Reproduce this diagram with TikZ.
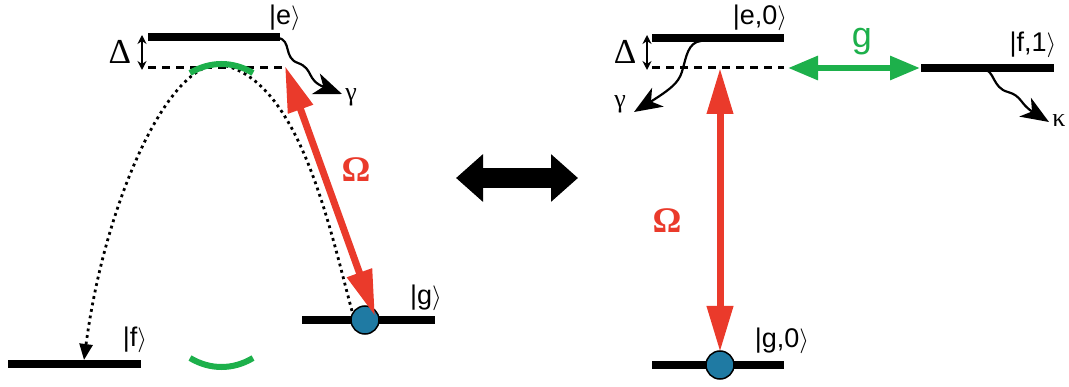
\documentclass[tikz,border=0pt]{standalone}
\usepackage{fontspec}
\setmainfont{Liberation Sans}
\newfontfamily\serifgr{Liberation Serif}
\usetikzlibrary{arrows.meta}
\definecolor{myred}{RGB}{234,58,43}
\definecolor{mygreen}{RGB}{29,176,75}
\definecolor{myblue}{RGB}{31,122,163}
\begin{document}
\begin{tikzpicture}[x=1pt,y=-1pt,
  level/.style={line width=8pt},
  virt/.style={line width=3pt, dash pattern=on 8pt off 6pt},
  ket/.style={font=\fontsize{27}{27}\selectfont, inner sep=0pt},
  greek/.style={font=\serifgr\fontsize{26}{26}\selectfont, inner sep=0pt},
  deltalbl/.style={font=\serifgr\fontsize{35}{35}\selectfont, inner sep=0pt},
  omegalbl/.style={font=\serifgr\bfseries\fontsize{36}{36}\selectfont, text=myred, inner sep=0pt},
  glbl/.style={font=\fontsize{36}{36}\selectfont, text=mygreen, inner sep=0pt},
  deltaarr/.style={line width=2pt, {Stealth[length=9pt,width=9pt]}-{Stealth[length=9pt,width=9pt]}},
  redarr/.style={draw=myred, line width=7pt, {Triangle[length=46pt,width=25pt]}-{Triangle[length=46pt,width=25pt]}},
  greenarr/.style={draw=mygreen, line width=6pt, {Triangle[length=30pt,width=23pt]}-{Triangle[length=30pt,width=23pt]}},
  decay/.style={line width=2.2pt, -{Stealth[length=28pt,width=22pt,inset=8pt]}},
  dotted path/.style={line width=2.8pt, dash pattern=on 2.8pt off 3.8pt, -{Triangle[length=16pt,width=13pt]}},
  greenarc/.style={draw=mygreen, line width=6pt},
  atom/.style={circle, fill=myblue, draw=black, line width=1.5pt, minimum size=28pt, inner sep=0pt},
  bigarr/.style={line width=20pt, {Triangle[length=27pt,width=46pt]}-{Triangle[length=27pt,width=46pt]}}
]
\useasboundingbox (0,0) rectangle (1069,387);

% ---------- left scheme ----------
\coordinate (eL1) at (148,37); \coordinate (eL2) at (280,37);
\coordinate (vL1) at (148,68); \coordinate (vL2) at (282,68);
\coordinate (fL1) at (8,364);  \coordinate (fL2) at (141,364);
\coordinate (gL1) at (302,320); \coordinate (gL2) at (435,320);
\draw[level] (eL1) -- (eL2);
\draw[virt] (vL1) -- (vL2);
\draw[level] (fL1) -- (fL2);
\draw[level] (gL1) -- (gL2);

\node[ket] (ke) at (285,18) {|e$\rangle$};
\node[ket] (kf) at (135,340) {|f$\rangle$};
\node[ket] (kg) at (426,298) {|g$\rangle$};

\node[deltalbl] (dL) at (120,52) {Δ};
\coordinate (dLt) at (142,35); \coordinate (dLb) at (142,70);
\draw[deltaarr] (dLt) -- (dLb);

% dotted path
\coordinate (pS) at (352,311);
\coordinate (pT) at (222,65);
\coordinate (pE) at (84,360);
\draw[dotted path] (pS) .. controls (330,230) and (300,80) .. (pT)
                   .. controls (170,58) and (105,200) .. (pE);

% green arcs
\coordinate (ga1) at (190,73); \coordinate (ga2) at (253,73);
\draw[greenarc] (ga1) .. controls (210,61) and (233,61) .. (ga2);
\coordinate (gb1) at (190,358); \coordinate (gb2) at (253,358);
\draw[greenarc] (gb1) .. controls (210,370) and (233,370) .. (gb2);

% atom and Omega
\node[atom] (atL) at (365,320) {};
\coordinate (rTop) at (285,66); \coordinate (rBot) at (375,316);
\draw[redarr] (rTop) -- (rBot);
\node[omegalbl] (omL) at (356,170) {Ω};

% gamma decay left
\coordinate (gsL) at (278,38); \coordinate (gtL) at (342,94);
\draw[decay] (gsL) .. controls (292,40) and (283,58) .. (298,63)
                   .. controls (314,69) and (306,80) .. (gtL);
\node[greek] (gamL) at (351,97) {γ};

% ---------- middle arrow ----------
\coordinate (mL) at (456,178); \coordinate (mR) at (578,178);
\draw[bigarr] (mL) -- (mR);

% ---------- right scheme ----------
\coordinate (eR1) at (652,38); \coordinate (eR2) at (784,38);
\coordinate (vR1) at (652,68); \coordinate (vR2) at (784,68);
\coordinate (fR1) at (921,68); \coordinate (fR2) at (1054,68);
\coordinate (gR1) at (652,365); \coordinate (gR2) at (784,365);
\draw[level] (eR1) -- (eR2);
\draw[virt] (vR1) -- (vR2);
\draw[level] (fR1) -- (fR2);
\draw[level] (gR1) -- (gR2);

\node[ket] (ke0) at (760,18) {|e,0$\rangle$};
\node[ket] (kf1) at (1033,45) {|f,1$\rangle$};
\node[ket] (kg0) at (782,341) {|g,0$\rangle$};

\node[deltalbl] (dR) at (625,52) {Δ};
\coordinate (dRt) at (647,35); \coordinate (dRb) at (647,70);
\draw[deltaarr] (dRt) -- (dRb);

\coordinate (gA) at (788,68); \coordinate (gB) at (920,68);
\draw[greenarr] (gA) -- (gB);
\node[glbl] (gl) at (862,42) {g};

\node[atom] (atR) at (720,365) {};
\coordinate (rRT) at (720,68); \coordinate (rRB) at (720,352);
\draw[redarr] (rRT) -- (rRB);
\node[omegalbl] (omR) at (667,221) {Ω};

% gamma decay right
\coordinate (gsR) at (701,41); \coordinate (gtR) at (634,112);
\draw[decay] (gsR) .. controls (688,42) and (686,58) .. (683,68)
                   .. controls (680,80) and (676,86) .. (gtR);
\node[greek] (gamR) at (620,104) {γ};

% kappa decay
\coordinate (ksR) at (983,69); \coordinate (ktR) at (1049,122);
\draw[decay] (ksR) .. controls (995,70) and (992,88) .. (1008,92)
                   .. controls (1022,96) and (1020,104) .. (ktR);
\node[greek] (kap) at (1059,121) {κ};
\end{tikzpicture}
\end{document}
